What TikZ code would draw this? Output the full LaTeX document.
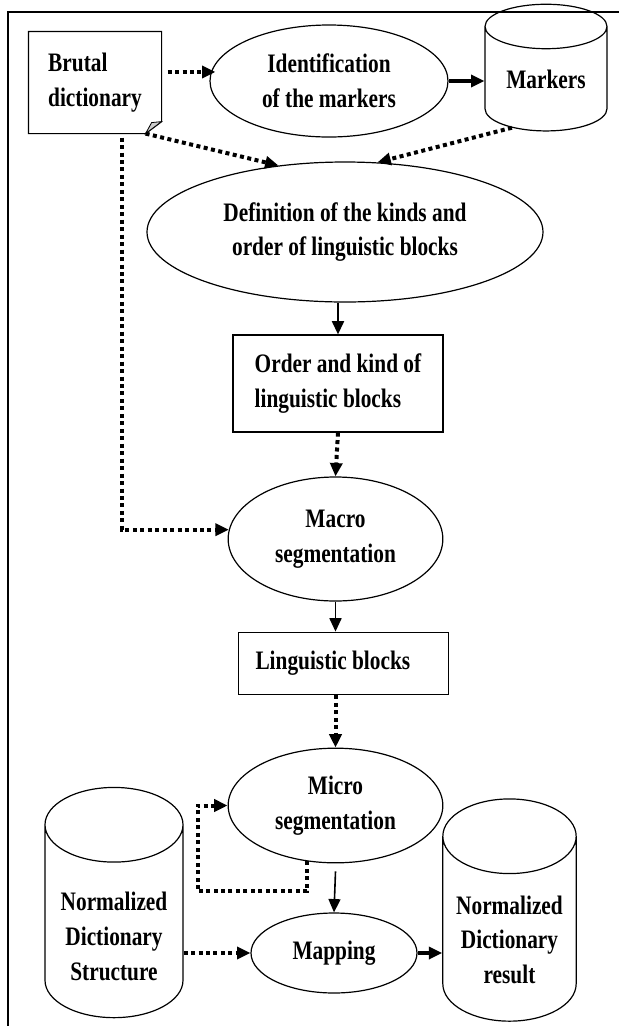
\documentclass[tikz,border=0pt]{standalone}
\usepackage{fontspec}
\setmainfont{Liberation Serif}[FakeStretch=0.8]
\usetikzlibrary{positioning, arrows.meta, calc, shapes.geometric}

\begin{document}
\begin{tikzpicture}[
    x=0.75pt, y=-0.75pt,
    font=\bfseries\fontsize{20}{26}\selectfont,
    process/.style={draw, ellipse, line width=0.9pt, inner sep=0pt, align=center},
    block/.style={draw, rectangle, line width=0.9pt, inner sep=0pt, align=left},
    data_store/.style={draw, cylinder, shape border rotate=90, line width=0.9pt, inner sep=0pt, align=center},
    arrow/.style={-{Triangle[length=10pt, width=9pt]}, line width=1.2pt},
    heavy_arrow/.style={arrow, line width=2.6pt},
    dot_arrow/.style={-{Triangle[length=10pt, width=9pt]}, line width=3pt, dash pattern=on 3pt off 2.6pt}
]
\useasboundingbox (0,0) rectangle (619,1026);

%% ============================================================
%% FRAME
%% ============================================================
\draw[line width=1.1pt] (8,1026) -- (8,12) -- (619,12);

%% ============================================================
%% TOP: DICTIONARY AND MARKERS
%% ============================================================
\node[block, draw=none, minimum width=99pt, minimum height=75.75pt] (brutal) at (95,82.5) {Brutal\\dictionary};
\draw[line width=0.9pt] (brutal.north west) -- (brutal.north east) -- ([yshift=9pt]brutal.south east)
    -- ([xshift=-12pt]brutal.south east) coordinate (fold) -- (brutal.south west) -- cycle;
\draw[line width=0.6pt, fill=gray!40] ([yshift=9pt]brutal.south east) -- ([xshift=-7.5pt, yshift=8.25pt]brutal.south east) -- (fold) -- cycle;

\node[process, minimum width=178.5pt, minimum height=84pt] (ident) at (329,81) {Identification\\of the markers};
\node[data_store, minimum width=91.5pt, minimum height=95pt, aspect=0.56] (markers) at (546,79) {Markers};

\draw[dot_arrow] ([xshift=4.5pt, yshift=7.9pt]brutal.east) -- ([xshift=4.5pt, yshift=7.9pt]brutal.east -| ident.west);
\draw[heavy_arrow] (ident.east) -- (ident.east -| markers.west);

%% ============================================================
%% MIDDLE: BLOCKS AND MACRO SEGMENTATION
%% ============================================================
\node[process, minimum width=297pt, minimum height=105pt] (def) at (345,232) {Definition of the kinds and\\order of linguistic blocks};
\draw[dot_arrow] (fold) -- (def.135);
\draw[dot_arrow] (markers.235) -- (def.65);

\node[block, minimum width=157.5pt, minimum height=72.75pt] (order) at (338,383.5) {Order and kind of\\linguistic blocks};
\draw[arrow, line width=1.6pt] (order.north |- def.south) -- (order.north);

\node[process, minimum width=161pt, minimum height=93pt] (macro) at (335.5,539) {Macro\\segmentation};
\draw[dot_arrow] (order.south) -- (macro.north);
\draw[dot_arrow] ([xshift=20pt, yshift=-3pt]brutal.south) |- (macro.175);

\node[block, align=flush left, minimum height=47pt, text width=132pt, inner xsep=13pt] (ling) at (343.5,663.5) {Linguistic blocks};
\draw[arrow] (macro.south) -- (macro.south |- ling.north);

%% ============================================================
%% BOTTOM: MICRO SEGMENTATION AND MAPPING
%% ============================================================
\node[process, minimum width=161pt, minimum height=86pt] (micro) at (335.5,805.5) {Micro\\segmentation};
\draw[dot_arrow] (ling.south -| micro.north) -- (micro.north);
\draw[dot_arrow] (micro.243) -- ++(0,30) -| ([xshift=-22.5pt]micro.west) -- (micro.west);

\node[process, minimum width=124.5pt, minimum height=60pt] (mapping) at (334,953) {Mapping};
\draw[arrow] ([yshift=-6pt]micro.south) -- (mapping.north);

%% --- text pushed below the top rim by a strut ---
\node[data_store, minimum width=103.5pt, minimum height=172pt, aspect=0.7] (normstruct) at (114,921.5) {\rule{0pt}{36pt}Normalized\\Dictionary\\Structure};
\node[data_store, minimum width=100pt, minimum height=160pt, aspect=0.7] (normresult) at (509.5,929) {\rule{0pt}{30pt}Normalized\\Dictionary\\result};

\draw[dot_arrow] (mapping.west -| normstruct.east) -- (mapping.west);
\draw[heavy_arrow] (mapping.east) -- (mapping.east -| normresult.west);

\end{tikzpicture}
\end{document}
